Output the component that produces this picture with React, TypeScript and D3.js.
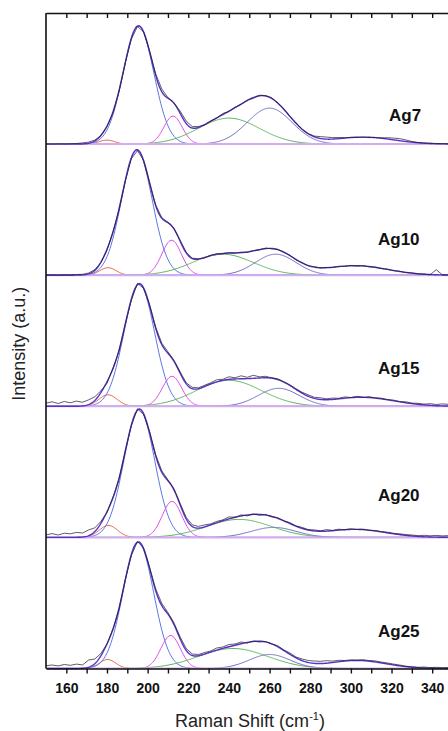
import React, { useEffect, useRef } from 'react';
import * as d3 from 'd3';

// Raman shift of each measured point (cm-1)
const shifts = d3.range(150, 349, 3);

const sampleNames = ['Ag7', 'Ag10', 'Ag15', 'Ag20', 'Ag25'];

// measured spectra (a.u.), one value per shift
const spectrumAg7 = [
  0.3, 0.2, 0.4, 0.3, 0.5, 0.6, 1.2, 2.0, 4.0, 8.5,
  17.5, 31.5, 53, 81, 105, 117.5, 112.5, 93, 70, 55,
  46.5, 41, 33, 23, 17.5, 17.6, 19.0, 23.1, 26.0, 30.6,
  32.6, 37.0, 39.6, 44.0, 45.7, 48.9, 48.6, 46.4, 41.1, 35.4,
  27.7, 21.3, 14.8, 10.5, 8, 7.5, 7, 6.5, 6.6, 6.4,
  6.8, 6.6, 6.9, 6.5, 6.6, 6.2, 6.4, 6, 5.5, 4.2,
  2.6, 1.6, 1.1, 0.8, 0.6, 0.5, 0.4,
];
const spectrumAg10 = [
  0.3, 0.5, 0.2, 0.6, 0.4, 0.7, 0.9, 2.2, 5.5, 12.5,
  25, 43.5, 66, 94, 116.5, 124.5, 115, 92.5, 70, 57.5,
  53, 46.5, 35, 23, 17, 16.5, 17.2, 20, 21.4, 21.3,
  22.6, 22, 23.1, 22.8, 24.6, 25.2, 27, 26.4, 25.8, 22.8,
  19.9, 15.3, 12.6, 9.4, 8.5, 7.2, 7.8, 7.6, 8.9, 8.7,
  9.8, 9.2, 9.6, 8.4, 8.2, 6.6, 6.1, 4.5, 4.0, 2.6,
  2.3, 1.2, 1.1, 0.5, 5.5, 0.4, 0.2,
];
const spectrumAg15 = [
  3.2, 4.5, 2.8, 4.8, 3.5, 5.2, 4.0, 6.5, 9.5, 15.5,
  23, 38.5, 55.5, 82.5, 106, 123, 118, 101.5, 79, 63,
  54.5, 46, 34.5, 23.5, 19, 18.5, 21, 23.5, 26.5, 27,
  29.5, 28.5, 30.5, 29, 31, 29.5, 30, 28.5, 27.5, 24.5,
  21.5, 17.5, 14, 11.5, 9, 8.5, 7.5, 8.2, 8, 9.4,
  8.8, 10, 8.9, 9.6, 8.4, 8.1, 6.8, 6.2, 4.8, 4.5,
  3.2, 3.0, 2.2, 2.6, 1.8, 2.4, 2.0,
];
const spectrumAg20 = [
  2.5, 3.8, 2.4, 4.2, 3.6, 5.0, 4.4, 7.5, 9.5, 16,
  25, 40.5, 58.5, 86.5, 111.5, 128.5, 123, 105.5, 82.5, 66.5,
  57.5, 48.5, 34, 20, 12.5, 11, 12.5, 13.5, 16, 17.5,
  20.5, 20, 22.5, 21.5, 23.5, 22, 23, 20.5, 19.8, 16.5,
  14.8, 11.5, 10, 7.8, 7.5, 6.5, 7.8, 7, 8.2, 7.6,
  8.6, 7.9, 8.3, 7.1, 6.9, 5.8, 5.2, 4.1, 3.6, 2.8,
  2.4, 1.7, 2.1, 1.6, 2.0, 1.5, 1.8,
];
const spectrumAg25 = [
  2.8, 3.5, 2.6, 4.0, 3.2, 4.4, 3.6, 8.5, 9.5, 15,
  24.5, 40, 60, 89, 113, 127, 120.5, 101, 79.5, 65,
  56, 45.5, 31.5, 20, 14.5, 14, 16, 17.5, 20.5, 21.5,
  24, 24.5, 26.5, 25.5, 27.5, 26.5, 27, 24.5, 22.8, 18.5,
  15.5, 11.5, 9.5, 8, 7.5, 7.2, 7.8, 7.4, 8.2, 8.0,
  8.6, 8.3, 8.8, 7.9, 7.6, 6.4, 5.5, 4.4, 3.5, 2.3,
  1.8, 1.2, 1.5, 0.9, 1.2, 0.8, 1.0,
];

// fitted Gaussian bands: [centre cm-1, height a.u., FWHM cm-1]
// order: ~180, ~195, ~212, ~240, ~260 bands, then broad ~300 background
const fitAg7 = [[180, 4, 8.9], [195.5, 118, 17.7], [212.5, 28, 10.6], [240, 26, 35.3], [260, 36, 25.9], [306, 7, 35.3]];
const fitAg10 = [[180.5, 7.5, 9.4], [194.7, 125, 17.7], [211.8, 35, 11.3], [237, 21, 35.3], [263, 21, 23.6], [302, 9.5, 37.7]];
const fitAg15 = [[180.5, 11.5, 10.6], [195.9, 122, 17.7], [212, 30, 11.3], [240, 26, 37.7], [264.5, 18, 23.6], [305, 9, 37.7]];
const fitAg20 = [[180.7, 12, 10.6], [195.9, 128, 17.7], [212, 36, 11.3], [245, 18, 37.7], [262, 10, 25.9], [302, 8, 35.3]];
const fitAg25 = [[180.3, 9, 9.4], [195.4, 126, 17.7], [211.3, 33, 11.3], [242, 20, 40], [260, 14, 23.6], [303, 8, 33]];

const spectra = [spectrumAg7, spectrumAg10, spectrumAg15, spectrumAg20, spectrumAg25];
const fits = [fitAg7, fitAg10, fitAg15, fitAg20, fitAg25];

const bandColors = ['#e8704f', '#5a78e2', '#e050e4', '#5cb65c', '#7272c6'];
const fitColor = '#5a30cc';
const baseColor = '#d2aef0';
const font = 'Liberation Sans, Arial, Helvetica, sans-serif';

// label placement [x px, offset above baseline px]
const labelPos = [[389, 23], [378, 30], [378, 32], [378, 36], [378, 32]];

const W = 448;
const H = 731;
const plotTop = 13;
const plotBottom = 668.5;
const panelH = (plotBottom - plotTop) / 5;

const gauss = (v: number, p: number[]) =>
  p[1] * Math.exp((-4 * Math.LN2 * (v - p[0]) ** 2) / (p[2] * p[2]));

export default function App() {
  const bottomRef = useRef<SVGGElement>(null);
  const topRef = useRef<SVGGElement>(null);

  const x = d3.scaleLinear().domain([150, 350]).range([46, 452.5]);
  const fine = d3.range(150, 350.01, 0.5);

  useEffect(() => {
    const ticks = d3.range(160, 351, 10);
    const b = d3.select(bottomRef.current);
    b.selectAll('*').remove();
    b.call(
      d3.axisBottom(x)
        .tickValues(ticks)
        .tickSize(5)
        .tickSizeOuter(0)
        .tickPadding(10)
        .tickFormat((d: any) => (d % 20 === 0 ? String(d) : ''))
    );
    b.attr('font-family', font).attr('font-size', 14);
    b.select('.domain').attr('stroke-width', 1.6).attr('stroke', '#111');
    b.selectAll('.tick line').attr('stroke-width', 1.4).attr('stroke', '#111');
    b.selectAll('.tick text').attr('font-weight', 'bold').attr('fill', '#111');

    const t = d3.select(topRef.current);
    t.selectAll('*').remove();
    t.call(d3.axisBottom(x).tickValues(ticks).tickSize(5).tickSizeOuter(0).tickFormat(() => ''));
    t.select('.domain').attr('stroke-width', 1.6).attr('stroke', '#111');
    t.selectAll('.tick line').attr('stroke-width', 1.4).attr('stroke', '#111');
  }, []);

  return (
    <svg width={W} height={H} style={{ position: 'absolute', left: 0, top: 0, background: '#fff' }}>
      <defs>
        <clipPath id="plotClip">
          <rect x={46} y={plotTop} width={W - 46} height={plotBottom - plotTop + 1} />
        </clipPath>
      </defs>
      <g clipPath="url(#plotClip)">
        {sampleNames.map((name, i) => {
          const base = plotTop + (i + 1) * panelH;
          const y = d3.scaleLinear().domain([0, panelH]).range([base, base - panelH]);
          const bands = fits[i];
          const line = d3.line<[number, number]>().x(d => x(d[0])).y(d => y(d[1]));
          const envelope = fine.map(v => [v, d3.sum(bands, p => gauss(v, p))] as [number, number]);
          const measured = shifts.map((v, k) => [v, spectra[i][k]] as [number, number]);
          return (
            <g key={name}>
              {bandColors.map((c, j) => (
                <path
                  key={j}
                  d={line(fine.map(v => [v, gauss(v, bands[j])] as [number, number])) || ''}
                  fill="none"
                  stroke={c}
                  strokeWidth={1}
                />
              ))}
              <line x1={46} x2={W} y1={y(0)} y2={y(0)} stroke={baseColor} strokeWidth={2} />
              <path d={line(envelope) || ''} fill="none" stroke={fitColor} strokeWidth={1.4} />
              <path d={line(measured) || ''} fill="none" stroke="#222" strokeWidth={0.9} strokeOpacity={0.8} />
            </g>
          );
        })}
      </g>
      {sampleNames.map((name, i) => {
        const base = plotTop + (i + 1) * panelH;
        return (
          <text
            key={name}
            x={labelPos[i][0]}
            y={base - labelPos[i][1]}
            fontFamily={font}
            fontWeight="bold"
            fontSize={17}
            fill="#111"
          >
            {name}
          </text>
        );
      })}
      <line x1={46} x2={46} y1={plotTop} y2={plotBottom} stroke="#111" strokeWidth={1.6} />
      <g ref={topRef} transform={`translate(0,${plotTop})`} />
      <g ref={bottomRef} transform={`translate(0,${plotBottom})`} />
      <text
        transform={`translate(25,${(plotTop + plotBottom) / 2 + 3}) rotate(-90)`}
        textAnchor="middle"
        fontFamily={font}
        fontSize={18}
        fill="#222"
      >
        Intensity (a.u.)
      </text>
      <text x={250} y={727} textAnchor="middle" fontFamily={font} fontSize={18} fill="#222">
        Raman Shift (cm
        <tspan dy={-7} fontSize={11}>-1</tspan>
        <tspan dy={7}>)</tspan>
      </text>
    </svg>
  );
}
